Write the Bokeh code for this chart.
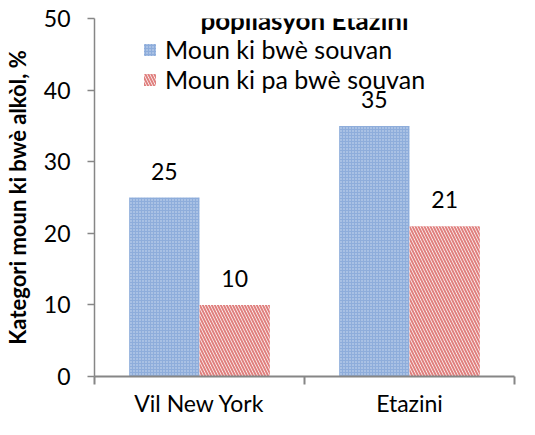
from bokeh.plotting import figure
from bokeh.models import (ColumnDataSource, FixedTicker, Legend, LegendItem,
                          LabelSet, Label, Range1d)
from bokeh.core.properties import value
from bokeh.embed import file_html
from bokeh.resources import INLINE

categories = ["Vil New York", "Etazini"]
series_names = ["Moun ki bwè souvan", "Moun ki pa bwè souvan"]
heavy = [25, 35]
light = [10, 21]
y_ticks = [0, 10, 20, 30, 40, 50]
title_text = "popilasyon Etazini"
y_label = "Kategori moun ki bwè alkòl, %"

FONT = "Lato"
AXIS_COLOR = "#868686"

xc = [i + 0.5 for i in range(len(categories))]
src = ColumnDataSource(dict(
    xb=[x - 0.1675 for x in xc], xr=[x + 0.1675 for x in xc],
    heavy=heavy, light=light,
    lh=[str(v) for v in heavy], ll=[str(v) for v in light],
))

p = figure(width=519, height=419, output_backend="svg", toolbar_location=None,
           x_range=Range1d(0, len(categories)), y_range=Range1d(0, 50),
           min_border_left=92, min_border_right=5, min_border_top=18,
           min_border_bottom=40)
p.outline_line_color = None
p.grid.visible = False

rb = p.vbar(x="xb", top="heavy", width=0.335, source=src,
            fill_color="#8EADDB", line_color=None,
            hatch_pattern="dot", hatch_color="white", hatch_scale=3,
            hatch_weight=1.0, hatch_alpha=0.6)
rr = p.vbar(x="xr", top="light", width=0.335, source=src,
            fill_color="white", line_color=None,
            hatch_pattern="left_diagonal_line", hatch_color="#E0807E",
            hatch_scale=6, hatch_weight=2)

for col, xcol, ycol in (("lh", "xb", "heavy"), ("ll", "xr", "light")):
    p.add_layout(LabelSet(x=xcol, y=ycol, text=col, source=src,
                          text_align="center", text_baseline="alphabetic",
                          y_offset=18, text_font=value(FONT),
                          text_font_size="23px", text_color="black"))

# axes
xa = p.xaxis[0]
xa.ticker = FixedTicker(ticks=xc, minor_ticks=list(range(len(categories) + 1)))
xa.major_label_overrides = {x: c for x, c in zip(xc, categories)}
xa.major_tick_out = 0
xa.major_tick_in = 0
xa.minor_tick_out = 8
xa.minor_tick_in = 0
xa.minor_tick_line_color = AXIS_COLOR
xa.minor_tick_line_width = 2
xa.axis_line_color = AXIS_COLOR
xa.axis_line_width = 2
xa.major_label_text_font = FONT
xa.major_label_text_font_size = "23px"
xa.major_label_text_color = "black"
xa.major_label_standoff = 4

ya = p.yaxis[0]
ya.ticker = FixedTicker(ticks=y_ticks)
ya.minor_tick_line_color = None
ya.major_tick_out = 7
ya.major_tick_in = 0
ya.major_tick_line_color = AXIS_COLOR
ya.major_tick_line_width = 1.5
ya.axis_line_color = AXIS_COLOR
ya.axis_line_width = 1.5
ya.major_label_text_font = FONT
ya.major_label_text_font_size = "23px"
ya.major_label_text_color = "black"
ya.major_label_standoff = 17
ya.axis_label = y_label
ya.axis_label_text_font = FONT
ya.axis_label_text_font_style = "bold"
ya.axis_label_text_font_size = "22px"
ya.axis_label_text_color = "black"
ya.axis_label_standoff = 10

p.add_layout(Label(x=len(categories) / 2, y=50, y_offset=-1, text=title_text,
                   text_align="center", text_baseline="alphabetic",
                   text_font=FONT, text_font_style="bold",
                   text_font_size="26px", text_color="black"))

legend = Legend(items=[LegendItem(label=series_names[0], renderers=[rb]),
                       LegendItem(label=series_names[1], renderers=[rr])],
                location=(48, 282), orientation="vertical",
                glyph_width=15, glyph_height=15, label_height=28,
                label_standoff=8, spacing=0, padding=0, margin=0,
                border_line_color=None, background_fill_alpha=0,
                label_text_font=FONT, label_text_font_size="25px",
                label_text_color="black")
p.add_layout(legend, "center")

open("out.html", "w").write(file_html(p, INLINE))
